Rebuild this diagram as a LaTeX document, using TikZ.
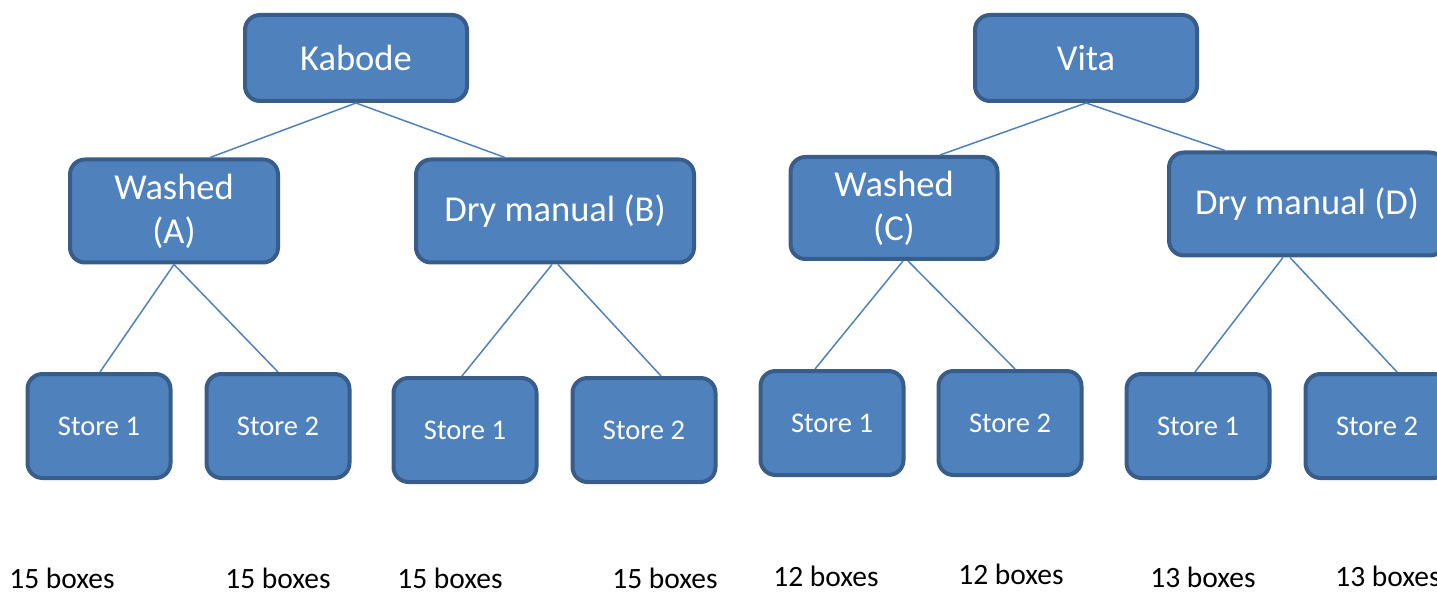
\documentclass[tikz,border=0pt]{standalone}
\usepackage{fontspec}
\setmainfont{Carlito}
\definecolor{boxfill}{HTML}{4F81BD}
\definecolor{boxedge}{HTML}{385D8A}
\definecolor{linkc}{HTML}{4F81BD}
\tikzset{
  catbox/.style={draw=boxedge,fill=boxfill,line width=4pt,rounded corners=15pt,
    text=white,font=\fontsize{36.5}{44}\selectfont,align=center,inner sep=0pt},
  storebox/.style={catbox,font=\fontsize{28.5}{34}\selectfont,
    minimum width=143pt,minimum height=104pt},
  boxlbl/.style={font=\fontsize{29.5}{34}\selectfont,text=black,inner sep=0pt},
  link/.style={draw=linkc,line width=1.5pt}
}
\begin{document}
\begin{tikzpicture}[x=1pt,y=-1pt]
  \useasboundingbox (0,0) rectangle (1437,593);
  \clip (0,0) rectangle (1437,593);

  % top level
  \node[catbox,minimum width=222pt,minimum height=86pt] (kabode) at (356,58) {Kabode};
  \node[catbox,minimum width=222pt,minimum height=86pt] (vita) at (1086,58) {Vita};

  % processing
  \node[catbox,minimum width=208pt,minimum height=103pt] (washA) at (174,211) {Washed\\(A)};
  \node[catbox,minimum width=278pt,minimum height=103pt] (dryB) at (555,211) {Dry manual (B)};
  \node[catbox,minimum width=207pt,minimum height=102pt] (washC) at (894,208) {Washed\\(C)};
  \node[catbox,minimum width=276pt,minimum height=103pt] (dryD) at (1307,204) {Dry manual (D)};

  % stores
  \node[storebox] (sA1) at (99,426) {Store 1};
  \node[storebox] (sA2) at (278,426) {Store 2};
  \node[storebox] (sB1) at (465,430) {Store 1};
  \node[storebox] (sB2) at (644,430) {Store 2};
  \node[storebox] (sC1) at (832,423) {Store 1};
  \node[storebox] (sC2) at (1010,423) {Store 2};
  \node[storebox] (sD1) at (1198,426) {Store 1};
  \node[storebox] (sD2) at (1377,426) {Store 2};

  % counts
  \node[boxlbl] (nA1) at (62,578) {15 boxes};
  \node[boxlbl] (nA2) at (278,578) {15 boxes};
  \node[boxlbl] (nB1) at (450,578) {15 boxes};
  \node[boxlbl] (nB2) at (665,578) {15 boxes};
  \node[boxlbl] (nC1) at (826,576) {12 boxes};
  \node[boxlbl] (nC2) at (1011,574) {12 boxes};
  \node[boxlbl] (nD1) at (1203,577) {13 boxes};
  \node[boxlbl] (nD2) at (1388,576) {13 boxes};

  % links
  \draw[link] (kabode.south) -- ([xshift=36pt]washA.north);
  \draw[link] (kabode.south) -- ([xshift=-50pt]dryB.north);
  \draw[link] (vita.south) -- ([xshift=46pt]washC.north);
  \draw[link] (vita.south) -- ([xshift=-82pt]dryD.north);
  \draw[link] (washA.south) -- ([xshift=1pt]sA1.north);
  \draw[link] (washA.south) -- (sA2.north);
  \draw[link] ([xshift=-3pt]dryB.south) -- ([xshift=-3pt]sB1.north);
  \draw[link] ([xshift=3pt]dryB.south) -- ([xshift=17pt]sB2.north);
  \draw[link] ([xshift=9pt]washC.south) -- ([xshift=-17pt]sC1.north);
  \draw[link] ([xshift=14pt]washC.south) -- ([xshift=5pt]sC2.north);
  \draw[link] ([xshift=-24pt]dryD.south) -- ([xshift=-3pt]sD1.north);
  \draw[link] ([xshift=-17pt]dryD.south) -- ([xshift=20pt]sD2.north);
\end{tikzpicture}
\end{document}
